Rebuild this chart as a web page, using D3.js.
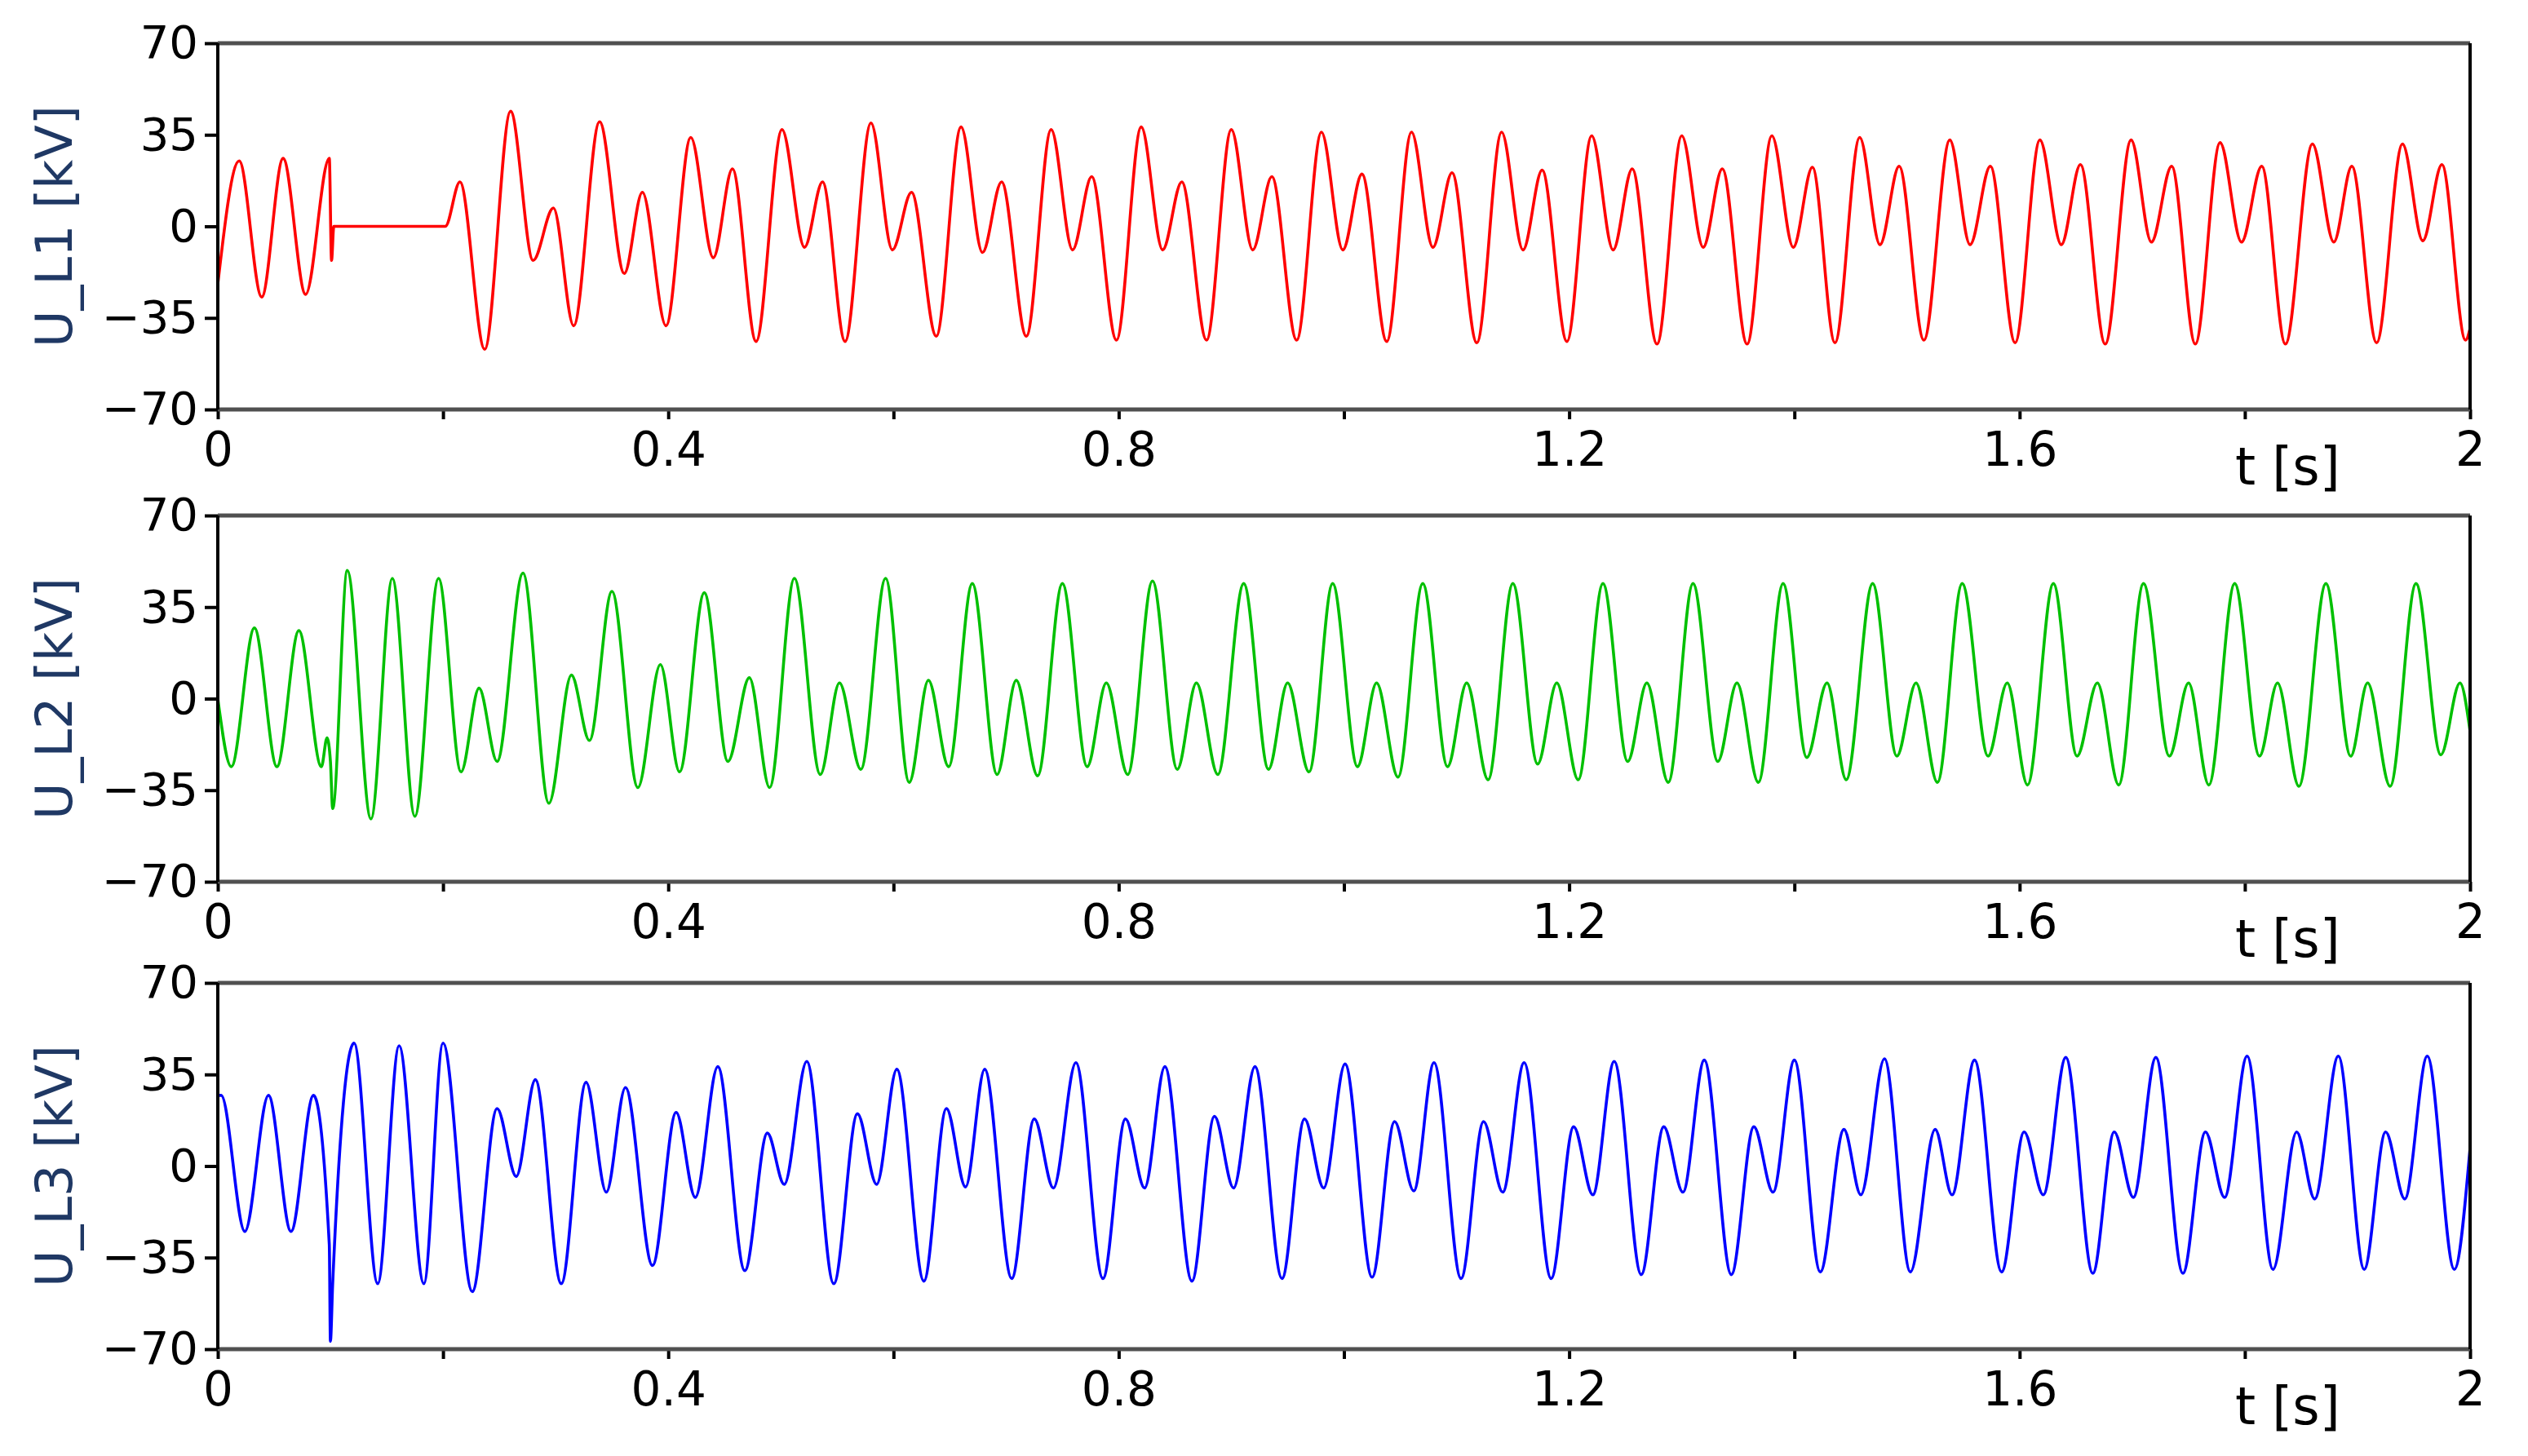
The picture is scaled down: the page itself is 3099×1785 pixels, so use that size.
<!DOCTYPE html>
<html><head><meta charset="utf-8">
<script src="https://cdn.jsdelivr.net/npm/d3@7"></script>
<style>body{margin:0;background:#fff}</style></head>
<body><svg id="c" width="3099" height="1785"></svg>
<script>
const xTickValues=[0,0.2,0.4,0.6,0.8,1.0,1.2,1.4,1.6,1.8,2.0];
const xTickLabels={0:"0",0.4:"0.4",0.8:"0.8",1.2:"1.2",1.6:"1.6",2:"2"};
const yTickValues=[-70,-35,0,35,70];
const panelLabels=["U_L1 [kV]","U_L2 [kV]","U_L3 [kV]"];
const panelColors=["#ff0000","#00c000","#0000ff"];

const uL1=[[0,-22],[0.019,25],[0.039,-27],[0.058,26],[0.078,-26],[0.099,26],[0.101,-13],[0.103,0],[0.202,0],
[0.215,17],[0.237,-47],[0.26,44],[0.28,-13],[0.298,7],[0.316,-38],[0.339,40],[0.361,-18],[0.377,13],[0.398,-38],
[0.42,34],[0.44,-12],[0.457,22],[0.478,-44],[0.501,37],[0.521,-8],[0.537,17],[0.557,-44],
[0.58,39.5],[0.599,-9],[0.616,13],[0.638,-42],
[0.66,38],[0.679,-10],[0.696,17],[0.718,-42],
[0.74,37],[0.759,-9],[0.776,19],[0.798,-43.5],
[0.82,38],[0.839,-9],[0.856,17],[0.878,-43.5],
[0.90,37],[0.919,-9],[0.936,19],[0.958,-43.5],
[0.98,36],[0.999,-9],[1.016,20],[1.038,-44],
[1.06,36],[1.079,-8],[1.096,20.5],[1.118,-44.5],
[1.14,36],[1.159,-9],[1.176,21.5],[1.198,-44],
[1.22,34.6],[1.239,-9],[1.256,22],[1.278,-45],
[1.30,34.6],[1.319,-8],[1.336,22],[1.358,-45],
[1.38,34.6],[1.399,-8],[1.416,22.6],[1.436,-44.5],
[1.458,34],[1.476,-7],[1.493,23],[1.515,-43.5],
[1.538,33],[1.556,-7],[1.574,23],[1.596,-44.5],
[1.618,33],[1.637,-7],[1.654,23.6],[1.676,-45],
[1.699,33],[1.717,-6],[1.735,23],[1.756,-45],
[1.778,32],[1.797,-6],[1.815,23],[1.836,-45],
[1.86,31.5],[1.879,-6],[1.895,23],[1.917,-44.5],
[1.94,31.5],[1.958,-5.5],[1.975,23.6],[1.996,-43.5],[2.0,-39]];

const uL2=[[0,0],[0.012,-26],[0.0325,27],[0.0525,-26],[0.072,26],[0.092,-26],[0.097,-15],[0.1,-24],[0.102,-42],
[0.115,49],[0.136,-46],[0.155,46],[0.175,-45],[0.196,46],[0.216,-28],[0.232,4],[0.248,-24],[0.271,48],[0.294,-40],
[0.314,9],[0.33,-16],[0.35,41],[0.373,-34],[0.393,13],[0.41,-28],[0.432,40.5],[0.453,-24],[0.472,8],[0.49,-34],
[0.512,46],[0.535,-29],[0.552,6],[0.571,-27],
[0.593,46],[0.614,-32],[0.631,7],[0.649,-26],
[0.670,44],[0.692,-29],[0.709,7],[0.728,-29.5],
[0.750,44],[0.772,-26],[0.789,6],[0.808,-29],
[0.830,45],[0.852,-27],[0.869,6],[0.888,-29],
[0.911,44],[0.933,-27],[0.950,6],[0.969,-28],
[0.990,44],[1.012,-26],[1.029,6],[1.048,-30],
[1.070,44],[1.092,-26],[1.109,6],[1.128,-31],
[1.150,44],[1.172,-25],[1.189,6],[1.208,-31],
[1.230,44],[1.252,-24],[1.269,6],[1.288,-32],
[1.310,44],[1.332,-24],[1.349,6],[1.368,-32],
[1.390,44],[1.411,-22.5],[1.429,6],[1.446,-31],
[1.4695,44],[1.491,-22],[1.508,6],[1.527,-32],
[1.549,44],[1.572,-22],[1.589,6],[1.607,-33],
[1.630,44],[1.651,-22],[1.669,6],[1.688,-33],
[1.710,44],[1.733,-22],[1.750,6],[1.768,-33],
[1.791,44],[1.813,-22],[1.829,6],[1.848,-33.5],
[1.872,44],[1.894,-22],[1.909,6],[1.929,-33.5],
[1.952,44],[1.974,-21.5],[1.991,6],[2.0,-12.5]];

const uL3=[[0,27],[0.003,27],[0.024,-25],[0.045,27],[0.065,-25],[0.085,27],[0.099,-30],[0.1,-67],[0.102,-45],
[0.121,47],[0.142,-45],[0.161,46],[0.183,-45],[0.2,47],[0.226,-48],[0.248,22],[0.265,-4],[0.282,33],[0.305,-45],
[0.327,32],[0.345,-10],[0.362,30],[0.386,-38],[0.407,20.5],[0.424,-12],[0.444,38],[0.468,-40],[0.488,12.6],[0.503,-7],
[0.523,40],[0.547,-45],[0.568,20],[0.585,-7],
[0.603,37],[0.627,-44],[0.647,22],[0.664,-8],
[0.681,37],[0.705,-43],[0.725,18],[0.742,-8.4],
[0.762,39.5],[0.786,-43],[0.806,18],[0.823,-8.4],
[0.841,38],[0.865,-44],[0.885,19],[0.902,-8.4],
[0.921,38],[0.945,-43],[0.965,18],[0.982,-8.4],
[1.001,39],[1.025,-42.5],[1.045,17],[1.062,-9.5],
[1.080,39.5],[1.104,-43],[1.124,17],[1.141,-10],
[1.160,39.5],[1.184,-43],[1.204,15],[1.221,-11],
[1.240,40],[1.264,-41.5],[1.284,15],[1.301,-10],
[1.320,40.5],[1.344,-41.5],[1.364,15],[1.381,-10],
[1.400,40.5],[1.423,-40.5],[1.444,14],[1.459,-11],
[1.480,41],[1.503,-40.5],[1.525,14],[1.540,-11],
[1.560,40.5],[1.584,-40.5],[1.604,13],[1.621,-11],
[1.641,41.5],[1.665,-41],[1.684,13],[1.701,-12],
[1.721,41.5],[1.745,-41],[1.765,13],[1.782,-12],
[1.802,42],[1.825,-39.5],[1.846,13],[1.862,-12.6],
[1.883,42],[1.906,-39.5],[1.925,13],[1.942,-12.6],
[1.962,42],[1.986,-39.5],[2.0,7]];

const series=[uL1,uL2,uL3];
const panelTops=[53,632,1205];
const ph=449, x0=267, x1=3028;
const svg=d3.select("#c");
const font="'DejaVu Sans', sans-serif";
const x=d3.scaleLinear().domain([0,2]).range([x0,x1]);

series.forEach((data,i)=>{
  const top=panelTops[i];
  const y=d3.scaleLinear().domain([-70,70]).range([top+ph,top]);
  const g=svg.append("g");
  g.append("path").datum(data)
    .attr("d",d3.line().x(d=>x(d[0])).y(d=>y(d[1])).curve(d3.curveMonotoneX))
    .attr("fill","none").attr("stroke",panelColors[i]).attr("stroke-width",3.6).attr("stroke-linejoin","round");
  const ya=g.append("g").attr("transform",`translate(${x0},0)`)
    .call(d3.axisLeft(y).tickValues(yTickValues).tickSize(16).tickPadding(8)
      .tickFormat(d=>d<0?"\u2212"+Math.abs(d):String(d)));
  ya.select(".domain").remove();
  ya.selectAll("line").attr("stroke","#000").attr("stroke-width",4);
  ya.selectAll("text").attr("font-family",font).attr("font-size",56).attr("fill","#000");
  const xa=g.append("g").attr("transform",`translate(0,${top+ph})`)
    .call(d3.axisBottom(x).tickValues(xTickValues).tickSize(12).tickPadding(16)
      .tickFormat(d=>xTickLabels[Math.round(d*10)/10]||""));
  xa.select(".domain").remove();
  xa.selectAll("line").attr("stroke","#000").attr("stroke-width",4);
  xa.selectAll("text").attr("font-family",font).attr("font-size",58).attr("fill","#000");
  g.append("text").attr("x",x(1.8)-12).attr("y",top+ph+92)
    .attr("font-family",font).attr("font-size",64).text("t [s]");
  g.append("line").attr("x1",x0).attr("x2",x1).attr("y1",top).attr("y2",top).attr("stroke","#505050").attr("stroke-width",5);
  g.append("line").attr("x1",x0).attr("x2",x1).attr("y1",top+ph).attr("y2",top+ph).attr("stroke","#505050").attr("stroke-width",5);
  g.append("line").attr("x1",x0).attr("x2",x0).attr("y1",top).attr("y2",top+ph).attr("stroke","#000").attr("stroke-width",4);
  g.append("line").attr("x1",x1).attr("x2",x1).attr("y1",top).attr("y2",top+ph).attr("stroke","#000").attr("stroke-width",4);
  g.append("text").attr("transform",`translate(88,${top+ph/2}) rotate(-90)`)
    .attr("text-anchor","middle").attr("font-family",font).attr("font-size",62)
    .attr("fill","#1f3864").text(panelLabels[i]);
});
</script></body></html>
